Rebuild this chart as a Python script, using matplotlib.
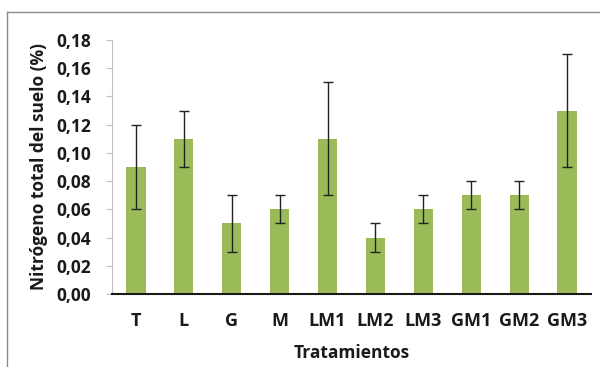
import matplotlib
matplotlib.use("Agg")
import matplotlib.pyplot as plt
from matplotlib.lines import Line2D
from matplotlib.ticker import FuncFormatter, MultipleLocator

treatments = ["T", "L", "G", "M", "LM1", "LM2", "LM3", "GM1", "GM2", "GM3"]
nitrogen = [0.09, 0.11, 0.05, 0.06, 0.11, 0.04, 0.06, 0.07, 0.07, 0.13]
errors = [0.03, 0.02, 0.02, 0.01, 0.04, 0.01, 0.01, 0.01, 0.01, 0.04]

plt.rcParams["font.family"] = ["Open Sans", "DejaVu Sans"]

fig = plt.figure(figsize=(6.0, 3.67), dpi=100)
ax = fig.add_axes([112 / 600, 1 - 294 / 367, 479 / 600, 254 / 367])

x = range(len(treatments))
ax.bar(x, nitrogen, width=0.4, color="#9BBB59", zorder=2)
ax.errorbar(x, nitrogen, yerr=errors, fmt="none", ecolor="#222222",
            elinewidth=1.0, capsize=3.5, capthick=1.0, zorder=3)

ax.set_xlim(-0.5, len(treatments) - 0.5)
ax.set_ylim(0, 0.18)
ax.yaxis.set_major_locator(MultipleLocator(0.02))
ax.yaxis.set_major_formatter(FuncFormatter(lambda v, p: f"{v:.2f}".replace(".", ",")))
ax.set_xticks(list(x))
ax.set_xticklabels(treatments)

for side in ("top", "right"):
    ax.spines[side].set_visible(False)
ax.spines["left"].set_color("#bfbfbf")
ax.spines["left"].set_linewidth(0.8)
ax.spines["bottom"].set_color("#1a1a1a")
ax.spines["bottom"].set_linewidth(1.5)

ax.tick_params(axis="y", length=4.5, width=0.8, color="#bfbfbf", pad=10.5,
               labelsize=12.5, labelcolor="#1a1a1a")
ax.tick_params(axis="x", length=0, pad=13.3, labelsize=13, labelcolor="#1a1a1a")
for lab in ax.get_xticklabels() + ax.get_yticklabels():
    lab.set_fontweight("bold")

ax.set_xlabel("Tratamientos", fontsize=12.5, fontweight="bold", color="#1a1a1a", labelpad=10)
ax.set_ylabel("Nitrógeno total del suelo (%)", fontsize=12.5, fontweight="bold",
              color="#1a1a1a", labelpad=6)

# Outer frame (top and left edges)
fig.add_artist(Line2D([7 / 600, 1.0], [1 - 12 / 367, 1 - 12 / 367],
                      transform=fig.transFigure, color="#8c8c8c", linewidth=1.0))
fig.add_artist(Line2D([7 / 600, 7 / 600], [0.0, 1 - 12 / 367],
                      transform=fig.transFigure, color="#8c8c8c", linewidth=1.0))

fig.savefig("out.png", dpi=100)
